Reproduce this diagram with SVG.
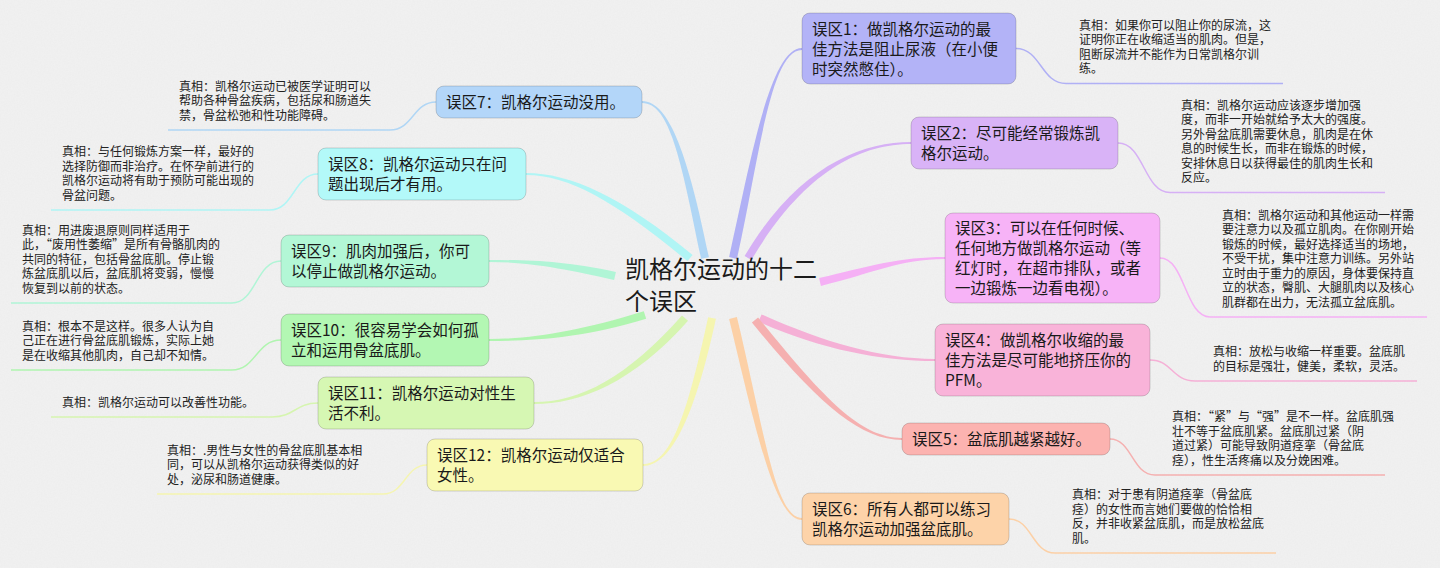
<svg xmlns="http://www.w3.org/2000/svg" width="1440" height="568" viewBox="0 0 1440 568">
<style>
text { font-family: "Noto Sans CJK SC", "Noto Sans", sans-serif; fill:#1a1a1a; }
.nt { font-size:15.5px; }
.tt { font-size:12px; fill:#222; }
.ct { font-size:24px; }
.box { stroke:rgba(0,0,0,0.16); stroke-width:1; }
.ln { fill:none; stroke-width:1.5; }
</style>
<defs>
  <filter id="paper" x="0" y="0" width="100%" height="100%">
    <feTurbulence type="fractalNoise" baseFrequency="0.7" numOctaves="3" seed="4"/>
    <feColorMatrix values="0.35 0 0 0 0.5  0.35 0 0 0 0.5  0.35 0 0 0 0.5  0 0 0 0 0.1"/>
  </filter>
</defs>
<rect width="1440" height="568" fill="#f2f2f2"/>
<rect width="1440" height="568" filter="url(#paper)"/>
<g id="connectors">
  <path fill="#b0b0f5" d="M736.9,258.9 C758.9,160.9 770,50 802,50 L802,48 C770,48 751.1,159.1 729.1,257.1 Z"/>
  <path fill="#d6b0f5" d="M751.4,260 C803.4,172 860,144 911,144 L911,142 C860,142 796.6,168 744.6,256 Z"/>
  <path fill="#f5b0f5" d="M820.9,285.9 C870.9,273.9 900,259 945,259 L945,257 C900,257 869.1,266.1 819.1,278.1 Z"/>
  <path fill="#f5b0d6" d="M758.4,321.6 C818.4,348.6 880,361 935,361 L935,359 C880,359 821.6,341.4 761.6,314.4 Z"/>
  <path fill="#f5b0b0" d="M751.9,322.5 C816.9,402.5 860,440 902,440 L902,438 C860,438 823.1,397.5 758.1,317.5 Z"/>
  <path fill="#fcd0a6" d="M729.1,318.9 C756.1,430.9 775,520 802,520 L802,518 C775,518 763.9,429.1 736.9,317.1 Z"/>
  <path fill="#b0d6f5" d="M708.9,257.2 C688.9,159.2 670,101 642,101 L642,103 C670,103 681.1,160.8 701.1,258.8 Z"/>
  <path fill="#b0f5f5" d="M692.6,254.9 C622.6,196.9 570,173 526,173 L526,175 C570,175 617.4,203.1 687.4,261.1 Z"/>
  <path fill="#b0f5d6" d="M615.9,272.1 C565.9,261.1 530,260 489,260 L489,262 C530,262 564.1,268.9 614.1,279.9 Z"/>
  <path fill="#b0f5b0" d="M643.8,311.2 C578.8,331.2 530,339 489,339 L489,341 C530,341 581.2,338.8 646.2,318.8 Z"/>
  <path fill="#d6f5b0" d="M682,315.4 C627,377.4 580,402 534,402 L534,404 C580,404 633,382.7 688,320.7 Z"/>
  <path fill="#f5f5b0" d="M708.1,317.2 C686.1,419.2 670,464 643,464 L643,466 C670,466 693.9,420.8 715.9,318.8 Z"/>

  <path class="ln" stroke="#b0b0f5" d="M1016,48.5 C1041,48.5 1041,83.5 1066,83.5 H1283"/>
  <path class="ln" stroke="#d6b0f5" d="M1118,143 C1144,143 1144,192.5 1170,192.5 H1385"/>
  <path class="ln" stroke="#f5b0f5" d="M1160,258 C1185,258 1185,317 1210,317 H1427"/>
  <path class="ln" stroke="#f5b0d6" d="M1150,360 C1172,360 1172,381 1195,381 H1417"/>
  <path class="ln" stroke="#f5b0b0" d="M1110,439 C1132,439 1132,475 1155,475 H1385"/>
  <path class="ln" stroke="#fcd0a6" d="M1009,519 C1032,519 1032,553 1055,553 H1276"/>
  <path class="ln" stroke="#b0d6f5" d="M436,102 C413,102 413,130 390,130 H168"/>
  <path class="ln" stroke="#b0f5f5" d="M318,174 C294,174 294,210 270,210 H51"/>
  <path class="ln" stroke="#b0f5d6" d="M281,261 C256,261 256,303 232,303 H11"/>
  <path class="ln" stroke="#b0f5b0" d="M281,340 C256,340 256,370 232,370 H11"/>
  <path class="ln" stroke="#d6f5b0" d="M318,403 C295,403 295,417 272,417 H51"/>
  <path class="ln" stroke="#f5f5b0" d="M427,465 C405,465 405,494 383,494 H157"/>
</g>

<g id="center">
  <text class="ct" x="625" y="278">凯格尔运动的十二</text>
  <text class="ct" x="625" y="310">个误区</text>
</g>

<g id="node1">
  <rect class="box" x="802" y="13" width="214" height="71" rx="8" fill="#b3b3f7"/>
  <text class="nt"><tspan x="812" y="34.5">误区1：做凯格尔运动的最</tspan><tspan x="812" y="54.5">佳方法是阻止尿液（在小便</tspan><tspan x="812" y="74.5">时突然憋住）。</tspan></text>
  <text class="tt"><tspan x="1079" y="29.8">真相：如果你可以阻止你的尿流，这</tspan><tspan x="1079" y="44.3">证明你正在收缩适当的肌肉。但是，</tspan><tspan x="1079" y="58.8">阻断尿流并不能作为日常凯格尔训</tspan><tspan x="1079" y="73.3">练。</tspan></text>
</g>
<g id="node2">
  <rect class="box" x="911" y="117" width="207" height="52" rx="8" fill="#d9b3f7"/>
  <text class="nt"><tspan x="921" y="138.5">误区2：尽可能经常锻炼凯</tspan><tspan x="921" y="158.5">格尔运动。</tspan></text>
  <text class="tt"><tspan x="1181" y="109.8">真相：凯格尔运动应该逐步增加强</tspan><tspan x="1181" y="124.3">度，而非一开始就给予太大的强度。</tspan><tspan x="1181" y="138.8">另外骨盆底肌需要休息，肌肉是在休</tspan><tspan x="1181" y="153.3">息的时候生长，而非在锻炼的时候，</tspan><tspan x="1181" y="167.8">安排休息日以获得最佳的肌肉生长和</tspan><tspan x="1181" y="182.3">反应。</tspan></text>
</g>
<g id="node3">
  <rect class="box" x="945" y="213" width="215" height="90" rx="8" fill="#f7b3f7"/>
  <text class="nt"><tspan x="955" y="233.5">误区3：可以在任何时候、</tspan><tspan x="955" y="253.5">任何地方做凯格尔运动（等</tspan><tspan x="955" y="273.5">红灯时，在超市排队，或者</tspan><tspan x="955" y="293.5">一边锻炼一边看电视）。</tspan></text>
  <text class="tt"><tspan x="1222" y="219.8">真相：凯格尔运动和其他运动一样需</tspan><tspan x="1222" y="234.3">要注意力以及孤立肌肉。在你刚开始</tspan><tspan x="1222" y="248.8">锻炼的时候，最好选择适当的场地，</tspan><tspan x="1222" y="263.3">不受干扰，集中注意力训练。另外站</tspan><tspan x="1222" y="277.8">立时由于重力的原因，身体要保持直</tspan><tspan x="1222" y="292.3">立的状态，臀肌、大腿肌肉以及核心</tspan><tspan x="1222" y="306.8">肌群都在出力，无法孤立盆底肌。</tspan></text>
</g>
<g id="node4">
  <rect class="box" x="935" y="324" width="215" height="72" rx="8" fill="#f9b3d9"/>
  <text class="nt"><tspan x="945" y="345.5">误区4：做凯格尔收缩的最</tspan><tspan x="945" y="365.5">佳方法是尽可能地挤压你的</tspan><tspan x="945" y="385.5">PFM。</tspan></text>
  <text class="tt"><tspan x="1213" y="356.3">真相：放松与收缩一样重要。盆底肌</tspan><tspan x="1213" y="370.8">的目标是强壮，健美，柔软，灵活。</tspan></text>
</g>
<g id="node5">
  <rect class="box" x="902" y="423" width="208" height="32" rx="8" fill="#fcb3b0"/>
  <text class="nt"><tspan x="912" y="444.5">误区5：盆底肌越紧越好。</tspan></text>
  <text class="tt"><tspan x="1172" y="421.3">真相：“紧”与“强”是不一样。盆底肌强</tspan><tspan x="1172" y="435.8">壮不等于盆底肌紧。盆底肌过紧（阴</tspan><tspan x="1172" y="450.3">道过紧）可能导致阴道痉挛（骨盆底</tspan><tspan x="1172" y="464.8">痉），性生活疼痛以及分娩困难。</tspan></text>
</g>
<g id="node6">
  <rect class="box" x="802" y="493" width="207" height="52" rx="8" fill="#fdd3a9"/>
  <text class="nt"><tspan x="812" y="514.5">误区6：所有人都可以练习</tspan><tspan x="812" y="534.5">凯格尔运动加强盆底肌。</tspan></text>
  <text class="tt"><tspan x="1072" y="499.3">真相：对于患有阴道痉挛（骨盆底</tspan><tspan x="1072" y="513.8">痉）的女性而言她们要做的恰恰相</tspan><tspan x="1072" y="528.3">反，并非收紧盆底肌，而是放松盆底</tspan><tspan x="1072" y="542.8">肌。</tspan></text>
</g>
<g id="node7">
  <rect class="box" x="436" y="86" width="206" height="32" rx="8" fill="#b3d6f9"/>
  <text class="nt"><tspan x="446" y="107.5">误区7：凯格尔运动没用。</tspan></text>
  <text class="tt"><tspan x="179" y="90.8">真相：凯格尔运动已被医学证明可以</tspan><tspan x="179" y="105.3">帮助各种骨盆疾病，包括尿和肠道失</tspan><tspan x="179" y="119.8">禁，骨盆松弛和性功能障碍。</tspan></text>
</g>
<g id="node8">
  <rect class="box" x="318" y="148" width="208" height="52" rx="8" fill="#b3f9f9"/>
  <text class="nt"><tspan x="328" y="169.5">误区8：凯格尔运动只在问</tspan><tspan x="328" y="189.5">题出现后才有用。</tspan></text>
  <text class="tt"><tspan x="62" y="156.3">真相：与任何锻炼方案一样，最好的</tspan><tspan x="62" y="170.8">选择防御而非治疗。在怀孕前进行的</tspan><tspan x="62" y="185.3">凯格尔运动将有助于预防可能出现的</tspan><tspan x="62" y="199.8">骨盆问题。</tspan></text>
</g>
<g id="node9">
  <rect class="box" x="281" y="235" width="208" height="52" rx="8" fill="#b3f7d6"/>
  <text class="nt"><tspan x="291" y="256.5">误区9：肌肉加强后，你可</tspan><tspan x="291" y="276.5">以停止做凯格尔运动。</tspan></text>
  <text class="tt"><tspan x="22" y="234.8">真相：用进废退原则同样适用于</tspan><tspan x="22" y="249.3">此，“废用性萎缩”是所有骨骼肌肉的</tspan><tspan x="22" y="263.8">共同的特征，包括骨盆底肌。停止锻</tspan><tspan x="22" y="278.3">炼盆底肌以后，盆底肌将变弱，慢慢</tspan><tspan x="22" y="292.8">恢复到以前的状态。</tspan></text>
</g>
<g id="node10">
  <rect class="box" x="281" y="314" width="208" height="52" rx="8" fill="#b3f7b3"/>
  <text class="nt"><tspan x="291" y="335.5">误区10：很容易学会如何孤</tspan><tspan x="291" y="355.5">立和运用骨盆底肌。</tspan></text>
  <text class="tt"><tspan x="22" y="330.8">真相：根本不是这样。很多人认为自</tspan><tspan x="22" y="345.3">己正在进行骨盆底肌锻炼，实际上她</tspan><tspan x="22" y="359.8">是在收缩其他肌肉，自己却不知情。</tspan></text>
</g>
<g id="node11">
  <rect class="box" x="318" y="377" width="216" height="52" rx="8" fill="#d6f7b3"/>
  <text class="nt"><tspan x="328" y="398.5">误区11：凯格尔运动对性生</tspan><tspan x="328" y="418.5">活不利。</tspan></text>
  <text class="tt"><tspan x="62" y="406.8">真相：凯格尔运动可以改善性功能。</tspan></text>
</g>
<g id="node12">
  <rect class="box" x="427" y="439" width="216" height="52" rx="8" fill="#f9f9b3"/>
  <text class="nt"><tspan x="437" y="460.5">误区12：凯格尔运动仅适合</tspan><tspan x="437" y="480.5">女性。</tspan></text>
  <text class="tt"><tspan x="167" y="454.8">真相：.男性与女性的骨盆底肌基本相</tspan><tspan x="167" y="469.3">同，可以从凯格尔运动获得类似的好</tspan><tspan x="167" y="483.8">处，泌尿和肠道健康。</tspan></text>
</g>
</svg>
